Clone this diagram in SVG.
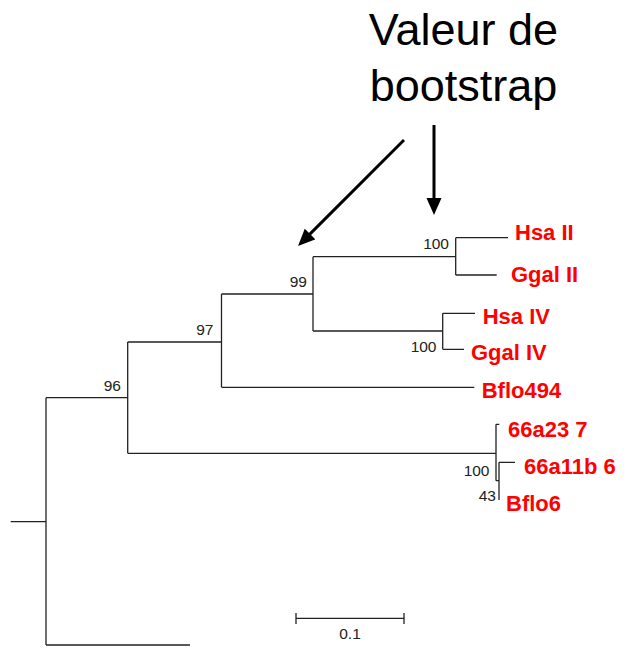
<svg xmlns="http://www.w3.org/2000/svg" width="627" height="649" viewBox="0 0 627 649">
  <style>
    .br { fill: none; stroke: #222; stroke-width: 1.3; }
    .bs { font-family: "Liberation Sans", Arial, sans-serif; font-size: 15.5px; fill: #222; text-anchor: end; }
    .taxon { font-family: "Liberation Sans", Arial, sans-serif; font-size: 22px; font-weight: bold; fill: #ff0000; }
    .title { font-family: "Liberation Sans", Arial, sans-serif; font-size: 45px; fill: #000; text-anchor: middle; }
    .arrow { stroke: #000; stroke-width: 3; fill: none; }
  </style>
  <defs>
    <marker id="head" markerUnits="userSpaceOnUse" markerWidth="18" markerHeight="16" refX="7" refY="7.5" orient="auto">
      <path d="M0,0 L17,7.5 L0,15 z" fill="#000"/>
    </marker>
  </defs>

  <!-- annotation -->
  <g id="title">
    <text class="title" x="463.5" y="44.5">Valeur de</text>
    <text class="title" x="463.5" y="100.5">bootstrap</text>
  </g>
  <g id="pointers">
    <line class="arrow" x1="434" y1="125" x2="434" y2="205" marker-end="url(#head)"/>
    <line class="arrow" x1="404" y1="140" x2="305.1" y2="238.9" marker-end="url(#head)"/>
  </g>

  <!-- tree branches -->
  <g id="branches">
    <path class="br" d="M10.7,521.7 H46 M46,397.7 V645 M46,397.7 H127.7 M46,645 H190"/>
    <path class="br" d="M127.7,342 V453.3 M127.7,342 H221.5 M127.7,453.3 H496"/>
    <path class="br" d="M221.5,294 V387.3 M221.5,294 H313 M221.5,387.3 H474.3"/>
    <path class="br" d="M313,256.7 V331 M313,256.7 H455.7 M313,331 H442.7"/>
    <path class="br" d="M455.7,237.7 V275 M455.7,237.7 H508 M455.7,275 H496.7"/>
    <path class="br" d="M442.7,313.3 V349.3 M442.7,313.3 H475 M442.7,349.3 H464"/>
    <path class="br" d="M496,424.3 V480.7 M496,424.3 H499.3 M496,480.7 H499"/>
    <path class="br" d="M499,462.3 V500 M499,462.3 H515"/>
  </g>

  <!-- bootstrap values -->
  <g id="support">
    <text class="bs" x="449" y="248.5">100</text>
    <text class="bs" x="307" y="287">99</text>
    <text class="bs" x="213.5" y="334.5">97</text>
    <text class="bs" x="121" y="391">96</text>
    <text class="bs" x="436.5" y="352">100</text>
    <text class="bs" x="489.5" y="475.5">100</text>
    <text class="bs" x="496" y="500.5">43</text>
  </g>

  <!-- leaves -->
  <g id="leaf-hsa-ii"><text class="taxon" x="515" y="240">Hsa II</text></g>
  <g id="leaf-ggal-ii"><text class="taxon" x="511" y="282">Ggal II</text></g>
  <g id="leaf-hsa-iv"><text class="taxon" x="482.7" y="324">Hsa IV</text></g>
  <g id="leaf-ggal-iv"><text class="taxon" x="471" y="360">Ggal IV</text></g>
  <g id="leaf-bflo494"><text class="taxon" x="481.7" y="398">Bflo494</text></g>
  <g id="leaf-66a23"><text class="taxon" x="508" y="437">66a23 7</text></g>
  <g id="leaf-66a11b"><text class="taxon" x="524" y="474">66a11b 6</text></g>
  <g id="leaf-bflo6"><text class="taxon" x="506" y="511">Bflo6</text></g>

  <!-- scale bar -->
  <g id="scale">
    <path class="br" d="M296,618.3 H404 M296,613 V624 M404,613 V624"/>
    <text class="bs" x="350" y="638.5" style="text-anchor: middle">0.1</text>
  </g>
</svg>
